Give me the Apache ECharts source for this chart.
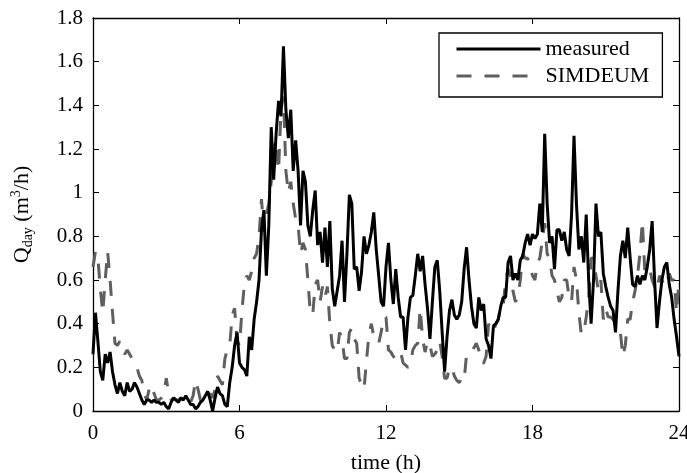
<!DOCTYPE html>
<html>
<head>
<meta charset="utf-8">
<script src="https://cdn.jsdelivr.net/npm/echarts@6/dist/echarts.min.js"></script>
<style>
  html, body { margin: 0; padding: 0; background: #fff; }
  #chart { width: 687px; height: 473px; }
</style>
</head>
<body>
<div id="chart"></div>
<script>
// Daily flow profile, sampled every 6 minutes (0.1 h) over 24 h.
const STEP_H = 0.1;
const seriesNames = ['measured', 'SIMDEUM'];

// Measured flow, m3/h
const measured = [
  0.26,0.45,0.32,0.18,0.14,0.26,0.22,0.27,0.18,0.12,
  0.08,0.13,0.09,0.07,0.13,0.09,0.10,0.13,0.11,0.08,
  0.05,0.03,0.05,0.05,0.04,0.05,0.04,0.04,0.03,0.04,
  0.02,0.01,0.04,0.06,0.05,0.04,0.06,0.05,0.07,0.05,
  0.03,0.03,0.01,0.02,0.04,0.05,0.07,0.09,0.05,0.00,
  0.06,0.11,0.08,0.07,0.03,0.02,0.13,0.20,0.30,0.36,
  0.22,0.20,0.19,0.16,0.34,0.28,0.42,0.50,0.60,0.83,
  0.92,0.62,0.85,1.30,1.06,1.27,1.42,1.35,1.67,1.38,
  1.25,1.38,1.10,1.24,1.10,0.85,1.10,1.05,0.85,0.80,
  0.92,1.01,0.76,0.82,0.68,0.84,0.66,0.87,0.56,0.48,
  0.55,0.62,0.78,0.50,0.72,0.99,0.95,0.65,0.66,0.55,
  0.64,0.80,0.72,0.76,0.82,0.91,0.74,0.62,0.50,0.48,
  0.66,0.77,0.60,0.49,0.65,0.52,0.43,0.43,0.28,0.43,
  0.52,0.53,0.62,0.72,0.64,0.71,0.58,0.47,0.33,0.50,
  0.66,0.69,0.55,0.36,0.18,0.34,0.46,0.51,0.44,0.42,
  0.44,0.50,0.65,0.75,0.60,0.48,0.40,0.38,0.52,0.46,
  0.49,0.33,0.30,0.24,0.39,0.40,0.42,0.48,0.52,0.52,
  0.68,0.71,0.60,0.63,0.60,0.69,0.71,0.77,0.81,0.76,
  0.81,0.79,0.81,0.95,0.82,1.27,0.95,0.77,0.80,0.65,
  0.83,0.83,0.78,0.82,0.74,0.71,0.90,1.26,0.95,0.74,
  0.80,0.68,0.90,0.60,0.40,0.60,0.95,0.80,0.82,0.63,
  0.57,0.52,0.48,0.46,0.36,0.55,0.71,0.78,0.70,0.84,
  0.70,0.58,0.57,0.62,0.58,0.62,0.60,0.66,0.74,0.87,
  0.60,0.38,0.50,0.60,0.66,0.68,0.58,0.52,0.42,0.34,
  0.25
];

// SIMDEUM simulated flow, m3/h
const simdeum = [
  0.66,0.73,0.70,0.56,0.45,0.60,0.73,0.60,0.45,0.31,
  0.30,0.32,0.28,0.26,0.28,0.26,0.24,0.22,0.20,0.16,
  0.14,0.08,0.05,0.10,0.12,0.08,0.05,0.05,0.06,0.08,
  0.15,0.08,0.05,0.06,0.05,0.05,0.06,0.05,0.06,0.06,
  0.04,0.07,0.14,0.10,0.05,0.05,0.04,0.06,0.08,0.06,
  0.10,0.16,0.14,0.12,0.24,0.28,0.30,0.44,0.47,0.32,
  0.30,0.46,0.58,0.62,0.60,0.64,0.70,0.72,0.80,0.97,
  0.82,0.90,0.95,1.05,1.24,1.20,1.10,1.38,1.44,1.10,
  1.00,1.05,0.95,0.88,0.85,0.72,0.77,0.74,0.60,0.45,
  0.44,0.58,0.60,0.50,0.57,0.52,0.57,0.40,0.30,0.28,
  0.27,0.36,0.33,0.24,0.24,0.36,0.38,0.33,0.31,0.15,
  0.12,0.10,0.23,0.35,0.40,0.34,0.32,0.31,0.36,0.43,
  0.43,0.28,0.27,0.25,0.24,0.26,0.27,0.22,0.21,0.20,
  0.21,0.28,0.30,0.31,0.47,0.33,0.27,0.32,0.30,0.25,
  0.26,0.28,0.32,0.25,0.15,0.15,0.20,0.20,0.16,0.14,
  0.13,0.15,0.14,0.26,0.27,0.27,0.29,0.31,0.28,0.22,
  0.22,0.25,0.40,0.37,0.36,0.40,0.42,0.48,0.48,0.60,
  0.65,0.62,0.55,0.50,0.52,0.60,0.72,0.70,0.70,0.66,
  0.62,0.60,0.68,0.70,0.78,0.86,0.72,0.70,0.62,0.60,
  0.55,0.50,0.52,0.60,0.60,0.52,0.50,0.66,0.60,0.45,
  0.35,0.36,0.43,0.52,0.70,0.70,0.62,0.55,0.60,0.42,
  0.47,0.43,0.43,0.42,0.40,0.37,0.36,0.25,0.30,0.42,
  0.42,0.50,0.55,0.62,0.72,0.87,0.64,0.66,0.65,0.60,
  0.57,0.55,0.62,0.60,0.57,0.58,0.63,0.60,0.60,0.45,
  0.60
];

const SERIF = 'Liberation Serif';
const toPairs = vals => vals.map((v, i) => [Math.round(i * STEP_H * 10) / 10, v]);

const axisLine = { show: true, onZero: false, lineStyle: { color: '#000', width: 1.3 } };
const axisTick = { show: true, inside: true, length: 6, lineStyle: { color: '#000', width: 1 } };
const tickFont = { fontFamily: SERIF, fontSize: 21, color: '#000' };

const chart = echarts.init(document.getElementById('chart'), null, { renderer: 'canvas' });
chart.setOption({
  animation: false,
  backgroundColor: '#fff',
  grid: { left: 93, right: 8, top: 18, bottom: 62, containLabel: false, outerBoundsMode: 'none' },
  legend: {
    orient: 'vertical',
    left: 439,
    top: 33,
    data: seriesNames,
    itemWidth: 84,
    itemHeight: 14,
    itemGap: 5,
    padding: [5, 13, 10, 16],
    borderColor: '#000',
    borderWidth: 1.3,
    borderRadius: 0,
    itemStyle: { color: 'rgba(0,0,0,0)', borderWidth: 0, opacity: 0 },
    lineStyle: { width: 3 },
    textStyle: { fontFamily: SERIF, fontSize: 22, color: '#000', lineHeight: 22 }
  },
  xAxis: [
    {
      type: 'value', position: 'bottom', min: 0, max: 24, interval: 6,
      name: 'time (h)', nameLocation: 'middle', nameGap: 41,
      nameTextStyle: { fontFamily: SERIF, fontSize: 22, color: '#000' },
      axisLine, axisTick,
      axisLabel: Object.assign({ margin: 12 }, tickFont),
      splitLine: { show: false }
    },
    {
      type: 'value', position: 'top', min: 0, max: 24, interval: 6,
      axisLine, axisTick, axisLabel: { show: false }, splitLine: { show: false }
    }
  ],
  yAxis: [
    {
      type: 'value', position: 'left', min: 0, max: 1.8, interval: 0.2,
      name: '{b|Q}{s|day}{b| (m}{p|3}{b|/h)}', nameLocation: 'middle', nameGap: 58, nameRotate: 90,
      nameTextStyle: {
        fontFamily: SERIF, fontSize: 22, color: '#000',
        rich: {
          b: { fontFamily: SERIF, fontSize: 22, color: '#000', lineHeight: 26 },
          s: { fontFamily: SERIF, fontSize: 14, color: '#000', lineHeight: 26, verticalAlign: 'bottom' },
          p: { fontFamily: SERIF, fontSize: 14, color: '#000', lineHeight: 26, verticalAlign: 'top' }
        }
      },
      axisLine, axisTick,
      axisLabel: Object.assign({ margin: 10 }, tickFont),
      splitLine: { show: false }
    },
    {
      type: 'value', position: 'right', min: 0, max: 1.8, interval: 0.2,
      axisLine, axisTick, axisLabel: { show: false }, splitLine: { show: false }
    }
  ],
  series: [
    {
      name: seriesNames[0], type: 'line', data: toPairs(measured),
      symbol: 'none', z: 3,
      lineStyle: { color: '#000', width: 3 },
      itemStyle: { color: '#000' }
    },
    {
      name: seriesNames[1], type: 'line', data: toPairs(simdeum),
      symbol: 'none', z: 2,
      lineStyle: { color: '#5f5f5f', width: 3, type: [15, 13] },
      itemStyle: { color: '#5f5f5f' }
    }
  ]
});
</script>
</body>
</html>
